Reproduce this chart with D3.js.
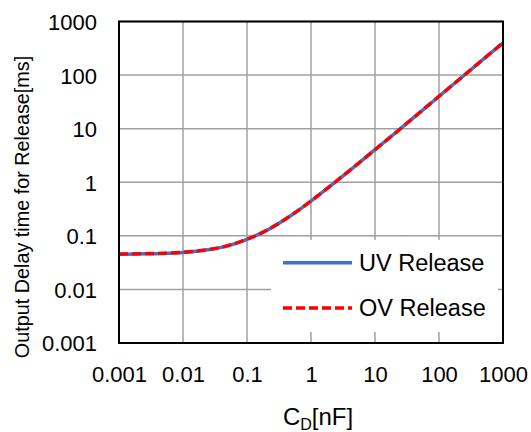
<!DOCTYPE html>
<html><head><meta charset="utf-8">
<script src="https://cdn.jsdelivr.net/npm/d3@7"></script>
<style>body{margin:0;background:#fff}svg{display:block}text{font-family:"Liberation Sans",Arial,sans-serif;fill:#000}</style>
</head><body><svg id="c" width="531" height="432"></svg>
<script>
const capacitance = [0.001,0.002,0.005,0.01,0.02,0.05,0.1,0.2,0.5,1,2,5,10,20,50,100,200,500,1000];
const uvRelease = [0.0455,0.046,0.047,0.049,0.053,0.065,0.086,0.125,0.245,0.445,0.85,2.05,4.05,8.0,20,40,80,200,400];
const ovRelease = [0.0458,0.0463,0.0473,0.0493,0.0533,0.0655,0.0865,0.126,0.246,0.447,0.852,2.06,4.06,8.02,20.1,40.2,80.3,201,402];
const xTicks = [0.001,0.01,0.1,1,10,100,1000];
const yTicks = [0.001,0.01,0.1,1,10,100,1000];
const xTickLabels = ["0.001","0.01","0.1","1","10","100","1000"];
const yTickLabels = ["0.001","0.01","0.1","1","10","100","1000"];
const seriesNames = ["UV Release","OV Release"];

const svg = d3.select("#c");
const L=119,R=503,T=21.5,B=343;
const x = d3.scaleLog().domain([0.001,1000]).range([L,R]);
const y = d3.scaleLog().domain([0.001,1000]).range([B,T]);

const grid = svg.append("g").attr("stroke","#a0a0a0").attr("stroke-width",1.5);
xTicks.forEach(v=>grid.append("line").attr("x1",x(v)).attr("x2",x(v)).attr("y1",T).attr("y2",B));
yTicks.forEach(v=>grid.append("line").attr("x1",L).attr("x2",R).attr("y1",y(v)).attr("y2",y(v)));

const line = d3.line().x((d,i)=>x(capacitance[i])).y(d=>y(d)).curve(d3.curveMonotoneX);
svg.append("path").datum(uvRelease).attr("d",line).attr("fill","none").attr("stroke","#4472c4").attr("stroke-width",3.5);
svg.append("path").datum(ovRelease).attr("d",line).attr("fill","none").attr("stroke","#ff0000").attr("stroke-width",3.3).attr("stroke-dasharray","9,4");

// legend
svg.append("rect").attr("x",271).attr("y",240).attr("width",227).attr("height",92).attr("fill","#fff");
const lg=[{n:seriesNames[0],c:"#4472c4",w:3.5,d:null,y:262.7},{n:seriesNames[1],c:"#ff0000",w:3.3,d:"9,4",y:308}];
lg.forEach(e=>{
  const l=svg.append("line").attr("x1",283).attr("x2",352).attr("y1",e.y).attr("y2",e.y).attr("stroke",e.c).attr("stroke-width",e.w);
  if(e.d) l.attr("stroke-dasharray",e.d);
  svg.append("text").attr("x",359).attr("y",e.y).attr("dy","0.36em").attr("font-size",23.5).text(e.n);
});

svg.append("rect").attr("x",L).attr("y",T).attr("width",R-L).attr("height",B-T).attr("fill","none").attr("stroke","#000").attr("stroke-width",2);

const xa = svg.append("g").attr("transform",`translate(0,${B})`)
  .call(d3.axisBottom(x).tickValues(xTicks).tickFormat((d,i)=>xTickLabels[i]).tickSize(0).tickPadding(0));
xa.select(".domain").remove();
xa.selectAll("text").attr("font-size",22).attr("y",38.5).attr("dy",0).attr("font-family","Liberation Sans,Arial,sans-serif").attr("fill","#000");

const ya = svg.append("g").attr("transform",`translate(${L},0)`)
  .call(d3.axisLeft(y).tickValues(yTicks).tickFormat((d,i)=>yTickLabels[i]).tickSize(0).tickPadding(0));
ya.select(".domain").remove();
ya.selectAll("text").attr("font-size",22).attr("x",-22).attr("dy","0.36em").attr("font-family","Liberation Sans,Arial,sans-serif").attr("fill","#000");

const xt = svg.append("text").attr("x",318).attr("y",425).attr("text-anchor","middle").attr("font-size",24);
xt.append("tspan").text("C");
xt.append("tspan").attr("font-size",16).attr("dy",5).text("D");
xt.append("tspan").attr("dy",-5).text("[nF]");

svg.append("text").attr("transform","translate(29,207) rotate(-90)").attr("text-anchor","middle").attr("font-size",19.8).text("Output Delay time for Release[ms]");
</script></body></html>
